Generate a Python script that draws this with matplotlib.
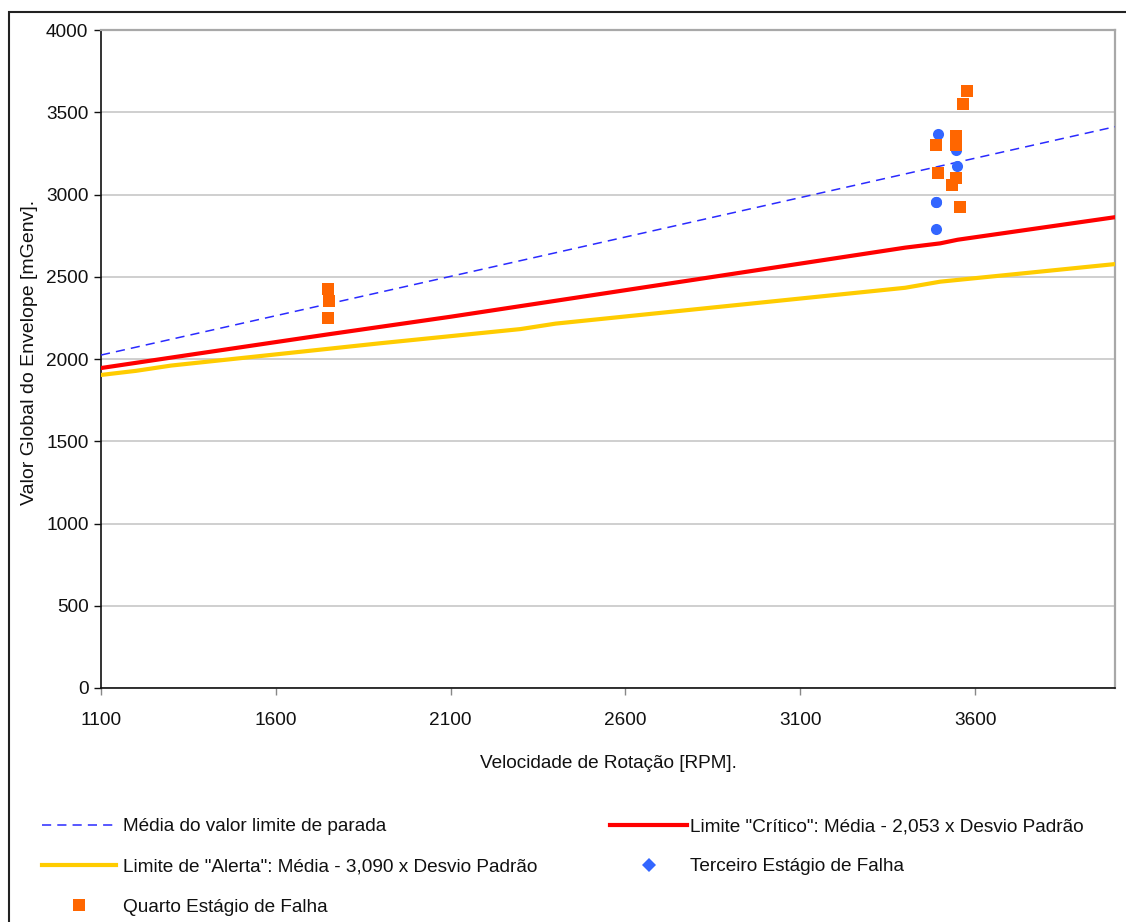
import matplotlib
matplotlib.use("Agg")
import matplotlib.pyplot as plt
from matplotlib.lines import Line2D
from matplotlib.patches import Rectangle

plt.rcParams['font.family'] = ['Liberation Sans', 'DejaVu Sans']

# Threshold curves versus rotation speed
rpm_media = [1100, 2300, 3400, 4000]
val_media = [2024, 2598, 3125, 3412]

rpm_critico = [1100, 1400, 1750, 2100, 2800, 3400, 3500, 3550, 4000]
val_critico = [1945, 2040, 2150, 2257, 2483, 2677, 2703, 2725, 2862]

rpm_alerta = [1100, 1200, 1300, 1900, 2300, 2400, 3400, 3500, 4000]
val_alerta = [1903, 1928, 1960, 2096, 2182, 2215, 2433, 2470, 2577]

# Measured global envelope values
rpm_terceiro = [3494, 3488, 3546, 3548, 3488, 3488]
val_terceiro = [3366, 2957, 3268, 3176, 2792, 2957]

rpm_quarto = [1749, 1751, 1749, 3577, 3566, 3488, 3546, 3546, 3546, 3494, 3546, 3534, 3556]
val_quarto = [2425, 2353, 2249, 3629, 3552, 3299, 3355, 3330, 3302, 3133, 3102, 3056, 2926]

x_ticks = [1100, 1600, 2100, 2600, 3100, 3600]
y_ticks = [0, 500, 1000, 1500, 2000, 2500, 3000, 3500, 4000]

lbl_media = "Média do valor limite de parada"
lbl_critico = 'Limite "Crítico": Média - 2,053 x Desvio Padrão'
lbl_alerta = 'Limite de "Alerta": Média - 3,090 x Desvio Padrão'
lbl_terceiro = "Terceiro Estágio de Falha"
lbl_quarto = "Quarto Estágio de Falha"

c_media = "#2A2AFF"
c_critico = "#FF0000"
c_alerta = "#FFCC00"
c_terceiro = "#3366FF"
c_quarto = "#FF6600"

FS = 13.7

W, H = 1126, 922
fig = plt.figure(figsize=(W / 100, H / 100), dpi=100)
fig.patch.set_facecolor("white")

# outer chart border
fig.add_artist(Rectangle((9 / W, -0.05), 1.2, 1 - 12 / H + 0.05, transform=fig.transFigure,
                         fill=False, edgecolor="#222222", linewidth=1.5))

ax = fig.add_axes([101 / W, 1 - 688 / H, (1115 - 101) / W, (688 - 30) / H])

ax.set_xlim(1100, 4000)
ax.set_ylim(0, 4000)
ax.set_xticks(x_ticks)
ax.set_yticks(y_ticks)

ax.grid(axis="y", color="#CFCFCF", linewidth=1.4)
ax.set_axisbelow(True)

ax.plot(rpm_alerta, val_alerta, color=c_alerta, linewidth=3.0, solid_joinstyle="round", zorder=3)
ax.plot(rpm_critico, val_critico, color=c_critico, linewidth=3.0, solid_joinstyle="round", zorder=3)
ax.plot(rpm_media, val_media, color=c_media, linewidth=1.1, dashes=(6, 4), zorder=3)
ax.plot(rpm_terceiro, val_terceiro, linestyle="none", marker="o", markersize=8,
        color=c_terceiro, markeredgewidth=0, zorder=4)
ax.plot(rpm_quarto, val_quarto, linestyle="none", marker="s", markersize=8,
        color=c_quarto, markeredgewidth=0, zorder=5)

for s in ("top", "right"):
    ax.spines[s].set_color("#A8A8A8")
    ax.spines[s].set_linewidth(1.6)
for s in ("left", "bottom"):
    ax.spines[s].set_color("#111111")
    ax.spines[s].set_linewidth(1.2)

ax.tick_params(axis="both", direction="out", labelsize=FS, colors="#111111")
ax.tick_params(axis="y", length=5, width=1.0, pad=4)
ax.tick_params(axis="x", length=5, width=1.0, color="#888888", labelcolor="#111111", pad=12)

ax.set_xlabel("Velocidade de Rotação [RPM].", fontsize=FS, labelpad=19, color="#111111")
ax.set_ylabel("Valor Global do Envelope [mGenv].", fontsize=14.0, color="#111111")
ax.yaxis.set_label_coords((38 - 101) / 1014, (688 - 352) / 658)

# legend, two columns
h_media = Line2D([], [], color=c_media, linewidth=1.1, dashes=(6, 4))
h_alerta = Line2D([], [], color=c_alerta, linewidth=3.0)
h_quarto = Line2D([], [], color=c_quarto, linestyle="none", marker="s", markersize=8, markeredgewidth=0)
h_critico = Line2D([], [], color=c_critico, linewidth=3.0)
h_terceiro = Line2D([], [], color=c_terceiro, linestyle="none", marker="D", markersize=7, markeredgewidth=0)

leg_kw = dict(loc="upper left", frameon=False, fontsize=FS, labelspacing=1.2,
              borderaxespad=0, borderpad=0)
leg1 = fig.legend([h_media, h_alerta, h_quarto], [lbl_media, lbl_alerta, lbl_quarto],
                  bbox_to_anchor=(42 / W, 1 - 818 / H), handlelength=3.9, handletextpad=0.38,
                  **leg_kw)
leg2 = fig.legend([h_critico, h_terceiro], [lbl_critico, lbl_terceiro],
                  bbox_to_anchor=(610 / W, 1 - 818 / H), handlelength=4.05, handletextpad=0.16,
                  **leg_kw)
for lg in (leg1, leg2):
    for t in lg.get_texts():
        t.set_color("#111111")

fig.savefig("out.png", dpi=100, facecolor="white")
